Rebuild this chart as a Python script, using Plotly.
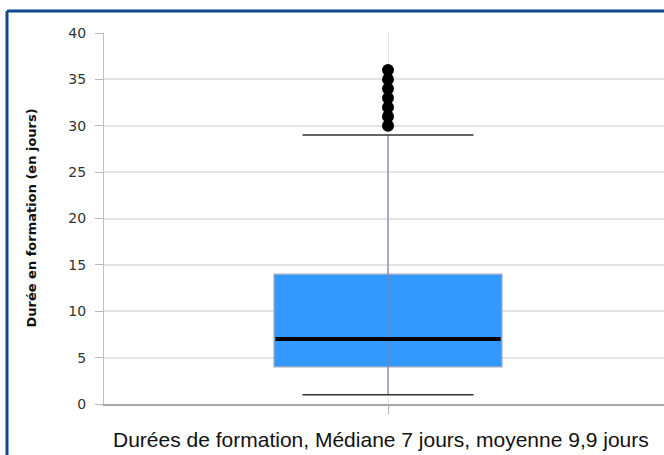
import plotly.graph_objects as go

# Data
category = ["Durées de formation"]
q1 = [4]
median = [7]
q3 = [14]
lower_whisker = [1]
upper_whisker = [29]
outliers = [30, 31, 32, 33, 34, 35, 36]
y_ticks = [0, 5, 10, 15, 20, 25, 30, 35, 40]
x_title = "Durées de formation, Médiane 7 jours, moyenne 9,9 jours"
y_title = "Durée en formation (en jours)"

xc = 0
box_w = 0.8
cap_w = 0.3

fig = go.Figure()

# Box (Q1 -> Q3)
fig.add_trace(go.Bar(
    x=[xc], y=[q3[0] - q1[0]], base=[q1[0]], width=box_w,
    marker=dict(color="#3399ff", line=dict(color="#a3abc6", width=1.2)),
    hoverinfo="skip", showlegend=False))

# Whisker vertical line
fig.add_trace(go.Scatter(
    x=[xc, xc], y=[lower_whisker[0], upper_whisker[0]], mode="lines",
    line=dict(color="rgba(120,135,170,0.85)", width=1.5),
    hoverinfo="skip", showlegend=False))

# Whisker caps
fig.add_trace(go.Scatter(
    x=[xc - cap_w, xc + cap_w, None, xc - cap_w, xc + cap_w],
    y=[lower_whisker[0], lower_whisker[0], None, upper_whisker[0], upper_whisker[0]],
    mode="lines", line=dict(color="#333333", width=1.5),
    hoverinfo="skip", showlegend=False))

# Median
fig.add_trace(go.Scatter(
    x=[xc - box_w / 2 + 0.005, xc + box_w / 2 - 0.005], y=[median[0], median[0]],
    mode="lines", line=dict(color="#000000", width=4),
    hoverinfo="skip", showlegend=False))

# Outliers
fig.add_trace(go.Scatter(
    x=[xc] * len(outliers), y=outliers, mode="markers",
    marker=dict(color="#000000", size=12),
    hoverinfo="skip", showlegend=False))

frame_col = "#0d4d8c"
fig.update_layout(
    width=664, height=455,
    margin=dict(l=104, r=0, t=33, b=51),
    paper_bgcolor="white", plot_bgcolor="white",
    xaxis=dict(range=[-284 / 285, 276 / 285], tickvals=[xc], ticktext=[""],
               showgrid=True, gridcolor="#e4e4e4", gridwidth=1,
               ticks="outside", ticklen=8, tickcolor="#b0b0b0",
               showline=True, linecolor="#a8a8a8", linewidth=2,
               zeroline=False, fixedrange=True),
    yaxis=dict(range=[0, 40], tickvals=y_ticks,
               showgrid=True, gridcolor="#e4e4e4", gridwidth=1.5,
               ticks="outside", ticklen=8, tickcolor="#b8b8b8",
               showline=True, linecolor="#c0c0c0", linewidth=1,
               zeroline=False, ticklabelstandoff=6,
               tickfont=dict(family="DejaVu Sans", size=14, color="#333333")),
    shapes=[
        dict(type="line", xref="paper", yref="paper",
             x0=(7 - 104) / 560, x1=(7 - 104) / 560,
             y0=(404 - 11) / 371, y1=(404 - 470) / 371,
             line=dict(color=frame_col, width=3)),
        dict(type="line", xref="paper", yref="paper",
             x0=(7 - 104) / 560, x1=1.2,
             y0=(404 - 11) / 371, y1=(404 - 11) / 371,
             line=dict(color=frame_col, width=3)),
    ],
    annotations=[
        dict(text=x_title, xref="paper", yref="paper",
             x=(381 - 104) / 560, y=(404 - 440) / 371,
             xanchor="center", yanchor="middle", showarrow=False,
             font=dict(family="Liberation Sans", size=21, color="#111111")),
        dict(text="<b>" + y_title + "</b>", xref="paper", yref="paper",
             x=(31 - 104) / 560, y=0.5, textangle=-90,
             xanchor="center", yanchor="middle", showarrow=False,
             font=dict(family="DejaVu Sans", size=13, color="#111111")),
    ],
)

fig.write_html("out.html", config={"displayModeBar": False},
               post_script="document.body.style.margin='0';document.body.style.overflow='hidden';")
